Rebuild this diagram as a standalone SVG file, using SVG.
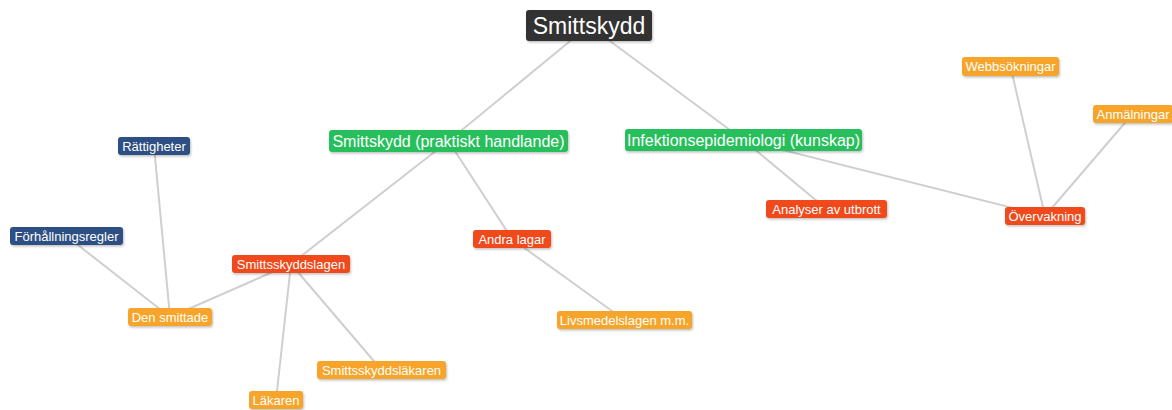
<svg xmlns="http://www.w3.org/2000/svg" width="1172" height="410" viewBox="0 0 1172 410">
<defs>
<filter id="sh" x="-10%" y="-20%" width="120%" height="160%">
<feDropShadow dx="1" dy="1.5" stdDeviation="1.2" flood-color="#000" flood-opacity="0.25"/>
</filter>
</defs>
<style>
.e{stroke:#cfcfcf;stroke-width:2;fill:none}
.b{filter:url(#sh)}
.t{font-family:"Liberation Sans",Arial,sans-serif;fill:#fff;text-anchor:middle}
.s{font-size:13px}
.m{font-size:16px}
.l{font-size:23px}
.dark{fill:#333333}
.green{fill:#25bf5c}
.red{fill:#f0491f}
.orange{fill:#f7a52a}
.blue{fill:#2e5083}
</style>
<rect width="1172" height="410" fill="#fff"/>
<g id="connectors">
<line class="e" x1="589" y1="25.5" x2="448.5" y2="141"/>
<line class="e" x1="589" y1="25.5" x2="743.5" y2="140"/>
<line class="e" x1="448.5" y1="141" x2="291" y2="264"/>
<line class="e" x1="448.5" y1="141" x2="512" y2="239"/>
<line class="e" x1="512" y1="239" x2="624.5" y2="320"/>
<line class="e" x1="291" y1="264" x2="170" y2="317"/>
<line class="e" x1="291" y1="264" x2="276" y2="400"/>
<line class="e" x1="291" y1="264" x2="381.5" y2="370"/>
<line class="e" x1="170" y1="317" x2="154" y2="146"/>
<line class="e" x1="170" y1="317" x2="66.5" y2="236"/>
<line class="e" x1="743.5" y1="140" x2="826.5" y2="209"/>
<line class="e" x1="743.5" y1="140" x2="1045" y2="216"/>
<line class="e" x1="1045" y1="216" x2="1010.5" y2="66.5"/>
<line class="e" x1="1045" y1="216" x2="1132.5" y2="114"/>
</g>
<g id="n-smittskydd"><rect class="b dark" x="526" y="10" width="126" height="31" rx="3"/><text class="t l" x="589" y="33.5">Smittskydd</text></g>
<g id="n-praktiskt"><rect class="b green" x="329" y="130" width="239" height="22" rx="3"/><text class="t m" x="448.5" y="146.5">Smittskydd (praktiskt handlande)</text></g>
<g id="n-infektion"><rect class="b green" x="625" y="129" width="237" height="22" rx="3"/><text class="t m" x="743.5" y="145.5">Infektionsepidemiologi (kunskap)</text></g>
<g id="n-rattigheter"><rect class="b blue" x="118" y="137" width="72" height="18" rx="3"/><text class="t s" x="154" y="150.5">Rättigheter</text></g>
<g id="n-forhallningsregler"><rect class="b blue" x="10" y="227" width="113" height="18" rx="3"/><text class="t s" x="66.5" y="240.5">Förhållningsregler</text></g>
<g id="n-smittsskyddslagen"><rect class="b red" x="232" y="255" width="118" height="18" rx="3"/><text class="t s" x="291" y="268.5">Smittsskyddslagen</text></g>
<g id="n-densmittade"><rect class="b orange" x="128" y="308" width="84" height="18" rx="3"/><text class="t s" x="170" y="321.5">Den smittade</text></g>
<g id="n-smittsskyddslakaren"><rect class="b orange" x="317" y="361" width="129" height="18" rx="3"/><text class="t s" x="381.5" y="374.5">Smittsskyddsläkaren</text></g>
<g id="n-lakaren"><rect class="b orange" x="249" y="391" width="54" height="18" rx="3"/><text class="t s" x="276" y="404.5">Läkaren</text></g>
<g id="n-andralagar"><rect class="b red" x="473" y="230" width="78" height="18" rx="3"/><text class="t s" x="512" y="243.5">Andra lagar</text></g>
<g id="n-livsmedelslagen"><rect class="b orange" x="557" y="311" width="135" height="18" rx="3"/><text class="t s" x="624.5" y="324.5">Livsmedelslagen m.m.</text></g>
<g id="n-analyser"><rect class="b red" x="766" y="200" width="121" height="18" rx="3"/><text class="t s" x="826.5" y="213.5">Analyser av utbrott</text></g>
<g id="n-overvakning"><rect class="b red" x="1005" y="207" width="80" height="18" rx="3"/><text class="t s" x="1045" y="220.5">Övervakning</text></g>
<g id="n-webbsokningar"><rect class="b orange" x="962" y="57" width="97" height="19" rx="3"/><text class="t s" x="1010.5" y="71">Webbsökningar</text></g>
<g id="n-anmalningar"><rect class="b orange" x="1093" y="105" width="80" height="18" rx="3"/><text class="t s" x="1133" y="118.5">Anmälningar</text></g>
</svg>
